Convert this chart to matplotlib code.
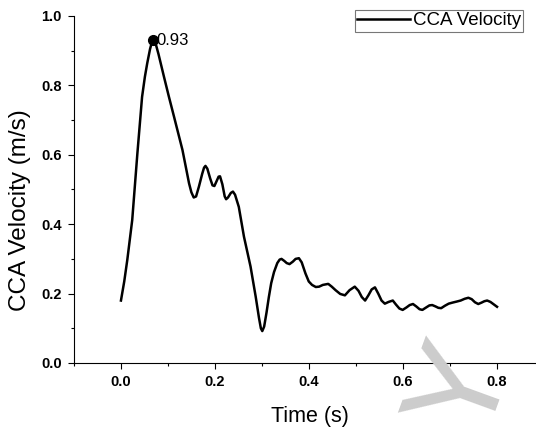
import matplotlib as mpl
import matplotlib.pyplot as plt
import numpy as np

mpl.rcParams["font.family"] = ["Liberation Sans", "DejaVu Sans"]

# CCA velocity over one cardiac cycle
time = [0.000, 0.007, 0.0135, 0.024, 0.035, 0.045, 0.051, 0.056, 0.062, 0.066,
        0.069, 0.073, 0.080, 0.0916, 0.102, 0.113, 0.131, 0.145, 0.150, 0.155,
        0.160, 0.166, 0.173, 0.177, 0.180, 0.184, 0.190, 0.195, 0.199, 0.204,
        0.208, 0.211, 0.216, 0.221, 0.224, 0.228, 0.234, 0.2385, 0.243, 0.251,
        0.262, 0.276, 0.287, 0.294, 0.298, 0.301, 0.305, 0.310, 0.315, 0.320,
        0.326, 0.333, 0.338, 0.342, 0.348, 0.353, 0.359, 0.366, 0.372, 0.379,
        0.385, 0.393, 0.400, 0.407, 0.415, 0.422, 0.430, 0.4415, 0.449, 0.457,
        0.467, 0.477, 0.487, 0.498, 0.506, 0.513, 0.520, 0.527, 0.534, 0.541,
        0.548, 0.555, 0.562, 0.570, 0.579, 0.586, 0.593, 0.600, 0.608, 0.615,
        0.622, 0.629, 0.636, 0.642, 0.650, 0.657, 0.663, 0.670, 0.676, 0.682,
        0.690, 0.698, 0.706, 0.715, 0.7235, 0.732, 0.740, 0.747, 0.754, 0.761,
        0.768, 0.774, 0.780, 0.787, 0.794, 0.801]
velocity = [0.180, 0.235, 0.297, 0.412, 0.604, 0.767, 0.825, 0.864, 0.905, 0.925,
            0.931, 0.925, 0.890, 0.825, 0.768, 0.710, 0.614, 0.518, 0.492, 0.477,
            0.480, 0.508, 0.545, 0.563, 0.568, 0.560, 0.532, 0.512, 0.510, 0.525,
            0.537, 0.538, 0.515, 0.480, 0.472, 0.477, 0.490, 0.494, 0.485, 0.450,
            0.364, 0.278, 0.191, 0.130, 0.100, 0.092, 0.105, 0.145, 0.190, 0.230,
            0.262, 0.288, 0.298, 0.300, 0.294, 0.288, 0.285, 0.292, 0.300, 0.302,
            0.290, 0.258, 0.235, 0.225, 0.219, 0.220, 0.225, 0.228, 0.220, 0.210,
            0.199, 0.195, 0.210, 0.220, 0.208, 0.190, 0.180, 0.195, 0.212, 0.218,
            0.200, 0.180, 0.171, 0.176, 0.180, 0.168, 0.157, 0.153, 0.160, 0.167,
            0.170, 0.163, 0.155, 0.153, 0.160, 0.166, 0.167, 0.163, 0.159, 0.158,
            0.165, 0.171, 0.174, 0.177, 0.180, 0.185, 0.188, 0.184, 0.175, 0.170,
            0.174, 0.178, 0.180, 0.176, 0.169, 0.162]
peak_t, peak_v = 0.069, 0.93
xticks = [0.0, 0.2, 0.4, 0.6, 0.8]
yticks = [0.0, 0.2, 0.4, 0.6, 0.8, 1.0]

fig = plt.figure(figsize=(5.36, 4.33), dpi=100)
ax = fig.add_axes([74 / 536, 70 / 433, 462 / 536, 347 / 433])

# faint watermark letter behind the plot
fig.text(464 / 536, 1 - 391 / 433, "Y", fontsize=95, color="#cccccc",
         rotation=70, ha="center", va="center", zorder=0)

ax.plot(time, velocity, color="black", lw=1.8, label="CCA Velocity",
        solid_joinstyle="round")
ax.plot(peak_t, peak_v, "o", color="black", ms=7)
ax.annotate("{:.2f}".format(peak_v), (peak_t, peak_v), xytext=(2, 0),
            textcoords="offset points", va="center", ha="left", fontsize=12)

ax.set_xlim(-0.1, 0.884)
ax.set_ylim(0.0, 1.0)
ax.set_xticks(xticks)
ax.set_yticks(yticks)
ax.xaxis.set_minor_locator(mpl.ticker.MultipleLocator(0.1))
ax.yaxis.set_minor_locator(mpl.ticker.MultipleLocator(0.1))
ax.set_xticklabels(["{:.1f}".format(t) for t in xticks])
ax.set_yticklabels(["{:.1f}".format(t) for t in yticks])
ax.tick_params(which="major", direction="out", length=4.5, width=0.8,
               labelsize=10.5, pad=4.5)
ax.tick_params(which="minor", direction="out", length=2.5, width=0.8)
for lbl in ax.get_xticklabels() + ax.get_yticklabels():
    lbl.set_fontweight("bold")

ax.spines["top"].set_visible(False)
ax.spines["right"].set_visible(False)
ax.patch.set_alpha(0)

ax.set_xlabel("Time (s)", fontsize=15.5)
ax.set_ylabel("CCA Velocity (m/s)", fontsize=17.5)
ax.xaxis.set_label_coords(0.511, -0.125)
ax.yaxis.set_label_coords(-0.092, 0.44)

leg = ax.legend(loc="upper right", bbox_to_anchor=(523 / 536, 1 - 10 / 433),
                bbox_transform=fig.transFigure, fontsize=13.5, frameon=True,
                fancybox=False, handlelength=2.8, handletextpad=0.15,
                borderpad=0.12, borderaxespad=0)
leg.get_frame().set_edgecolor("#555555")
leg.get_frame().set_linewidth(0.8)

fig.savefig("out.png", dpi=100)
